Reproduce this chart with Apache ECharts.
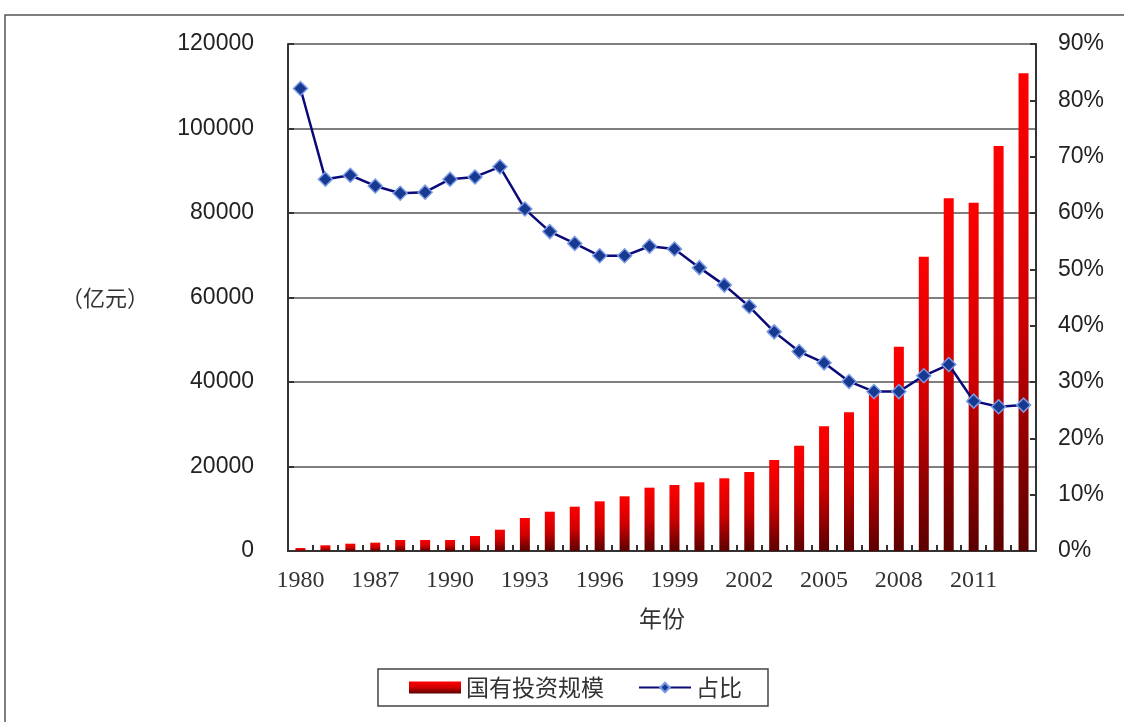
<!DOCTYPE html>
<html>
<head>
<meta charset="utf-8">
<script src="https://cdn.jsdelivr.net/npm/echarts@6/dist/echarts.min.js"></script>
<style>
  html, body { margin: 0; padding: 0; background: #fff; }
  #main { width: 1124px; height: 722px; }
</style>
</head>
<body>
<div id="main"></div>
<script>
// 年份（1980 之后从 1985 开始逐年）
const years = ['1980', '1985', '1986', '1987', '1988', '1989', '1990', '1991', '1992', '1993',
  '1994', '1995', '1996', '1997', '1998', '1999', '2000', '2001', '2002', '2003',
  '2004', '2005', '2006', '2007', '2008', '2009', '2010', '2011', '2012', '2013']
// 国有投资规模（亿元）
const investment = [700, 1350, 1730, 1970, 2600, 2600, 2600, 3550, 5040, 7810,
  9300, 10490, 11760, 12940, 14990, 15620, 16260, 17210, 18700, 21540,
  24930, 29510, 32830, 38000, 48360, 69660, 83480, 82440, 95860, 113070]
// 占比（%）
const share = [82.1, 66.0, 66.7, 64.8, 63.5, 63.7, 66.0, 66.4, 68.2, 60.7,
  56.7, 54.6, 52.4, 52.4, 54.1, 53.6, 50.3, 47.2, 43.4, 38.9,
  35.4, 33.4, 30.1, 28.3, 28.3, 31.1, 33.1, 26.6, 25.6, 25.9]

const chart = echarts.init(document.getElementById('main'))

const option = {
  backgroundColor: '#fff',
  animation: false,
  graphic: [
    {
      type: 'rect',
      shape: { x: 5, y: 15, width: 1140, height: 730 },
      style: { fill: 'none', stroke: '#555', lineWidth: 1.5 },
      silent: true,
    },
  ],
  grid: {
    left: 288,
    right: 88,
    top: 44,
    bottom: 171,
  },
  legend: {
    left: 378,
    top: 669,
    padding: [7, 26, 7, 31],
    itemGap: 34,
    itemWidth: 52,
    itemHeight: 12,
    borderColor: '#444',
    borderWidth: 1.5,
    textStyle: {
      fontFamily: 'Noto Sans CJK SC',
      fontSize: 23,
      color: '#333',
    },
    data: [
      { name: '国有投资规模', icon: 'rect' },
      { name: '占比' },
    ],
  },
  xAxis: {
    type: 'category',
    data: years,
    name: '年份',
    nameLocation: 'middle',
    nameGap: 56,
    nameTextStyle: {
      fontFamily: 'Noto Sans CJK SC',
      fontSize: 23,
      color: '#333',
    },
    axisLine: { lineStyle: { color: '#333', width: 2 } },
    axisTick: { show: true, inside: true, length: 6, interval: 0, lineStyle: { color: '#333', width: 2 } },
    axisLabel: {
      interval: 2,
      margin: 18,
      fontFamily: 'Liberation Serif',
      fontSize: 24,
      color: '#333',
    },
  },
  yAxis: [
    {
      type: 'value',
      min: 0,
      max: 120000,
      interval: 20000,
      name: '（亿元）',
      nameLocation: 'middle',
      nameRotate: 0,
      nameGap: 183,
      nameTextStyle: {
        fontFamily: 'Noto Sans CJK SC',
        fontSize: 22,
        color: '#333',
        align: 'center',
      },
      axisLine: { show: true, lineStyle: { color: '#333', width: 2 } },
      axisTick: { show: true, inside: true, length: 6, lineStyle: { color: '#333', width: 2 } },
      axisLabel: {
        margin: 34,
        formatter: (v) => String(v),
        fontFamily: 'Liberation Sans',
        fontSize: 23,
        color: '#222',
      },
      splitLine: { lineStyle: { color: '#555', width: 1.5 } },
    },
    {
      type: 'value',
      min: 0,
      max: 90,
      interval: 10,
      axisLine: { show: true, lineStyle: { color: '#333', width: 2 } },
      axisTick: { show: true, inside: true, length: 6, lineStyle: { color: '#333', width: 2 } },
      axisLabel: {
        margin: 22,
        formatter: '{value}%',
        fontFamily: 'Liberation Sans',
        fontSize: 23,
        color: '#222',
      },
      splitLine: { show: false },
    },
  ],
  series: [
    {
      name: '国有投资规模',
      type: 'bar',
      data: investment,
      barWidth: 10,
      itemStyle: {
        color: new echarts.graphic.LinearGradient(0, 0, 0, 1, [
          { offset: 0, color: '#ff0000' },
          { offset: 0.5, color: '#d00000' },
          { offset: 1, color: '#5a0000' },
        ]),
      },
    },
    {
      name: '占比',
      type: 'line',
      yAxisIndex: 1,
      data: share,
      symbol: 'diamond',
      symbolSize: 14,
      lineStyle: { color: '#0a0a78', width: 2.5 },
      itemStyle: {
        color: '#17398f',
        borderColor: '#7a9ae6',
        borderWidth: 1.5,
      },
    },
  ],
}

chart.setOption(option)
</script>
</body>
</html>
